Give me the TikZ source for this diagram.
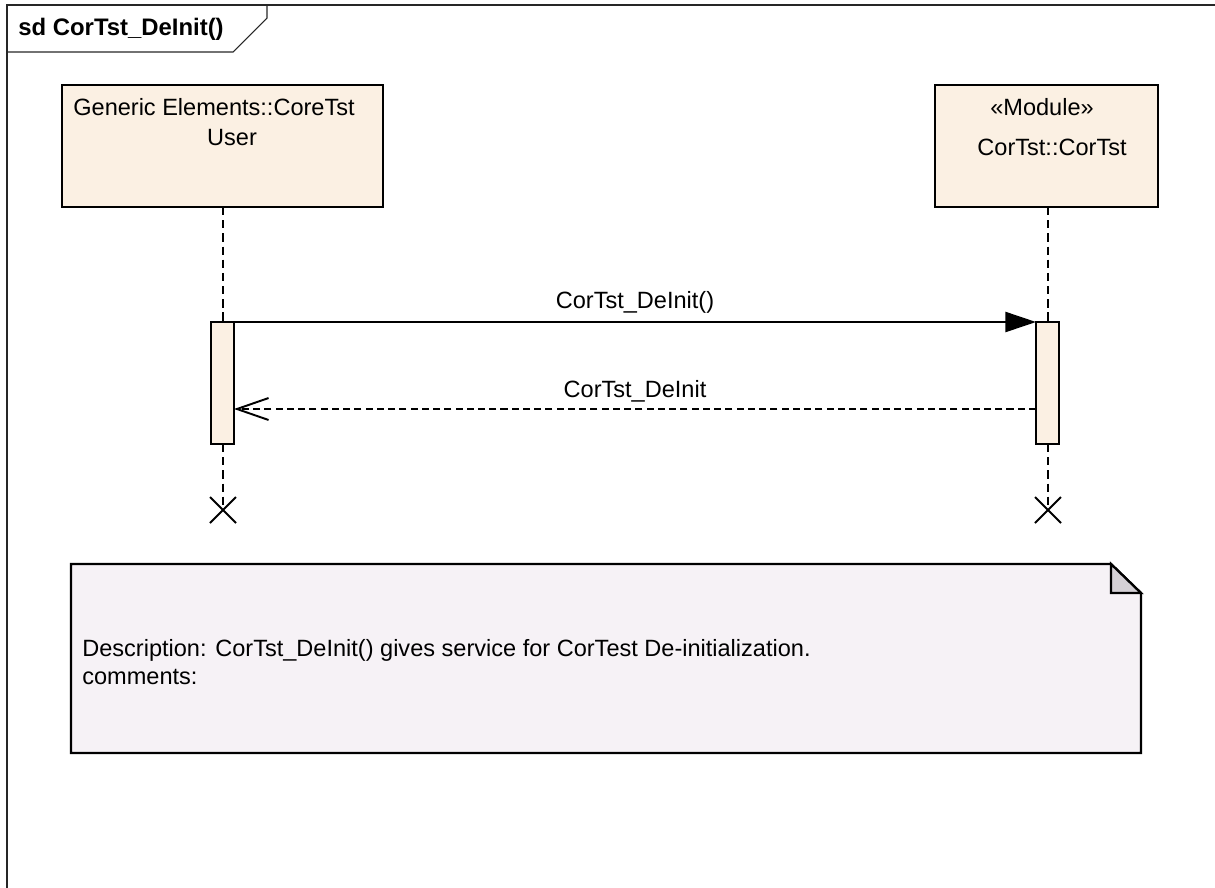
\documentclass[tikz,border=0pt]{standalone}
\usepackage{fontspec}
\setmainfont{Liberation Sans}
\usetikzlibrary{arrows.meta}
\definecolor{headfill}{RGB}{251,240,227}
\definecolor{notefill}{RGB}{246,242,246}
\definecolor{foldfill}{RGB}{212,208,213}
\tikzset{
  every node/.style={font=\fontsize{13.4}{16}\selectfont, inner sep=0pt},
  frameline/.style={line width=1pt, draw=black!85},
  tabline/.style={line width=0.6pt, draw=black!85},
  headbox/.style={line width=1.3pt, fill=headfill},
  actbar/.style={line width=1.1pt, fill=headfill},
  lifeline/.style={line width=1.1pt, dash pattern=on 4.7pt off 2.8pt},
  callmsg/.style={line width=1.1pt, -{Triangle[length=17.5pt,width=11.5pt]}},
  retmsg/.style={line width=1.1pt, dash pattern=on 4pt off 2.4pt, -{Straight Barb[length=18pt,width=12.5pt,line width=1.1pt]}},
  endmark/.style={line width=1.1pt},
  notebox/.style={line width=1.3pt, fill=notefill}
}
\begin{document}
\begin{tikzpicture}[x=0.02cm, y=-0.02cm, line join=miter]
\useasboundingbox (0,0) rectangle (1215,887);
\clip (0,0) rectangle (1215,887);
% frame with title tab
\draw[frameline] (7,900) -- (7,5) -- (1220,5);
\draw[tabline] (7,52) -- (233,52) -- (267,18) -- (267,5);
\node[anchor=base west, font=\fontsize{13.6}{16}\selectfont\bfseries] (title) at (18,35) {sd CorTst\_DeInit()};
% heads
\coordinate (U) at (223,207);
\coordinate (M) at (1048,207);
\draw[headbox] (62,85) rectangle (383,207);
\draw[headbox] (935,85) rectangle (1158,207);
\node[anchor=base] (userName) at (214,115) {Generic Elements::CoreTst};
\node[anchor=base] (userRole) at (232,145) {User};
\node[anchor=base] (modStereo) at (1042,115) {«Module»};
\node[anchor=base] (modName) at (1052,155) {CorTst::CorTst};
% lifelines
\coordinate (Utop) at (223,322); \coordinate (Ubot) at (223,444); \coordinate (Uend) at (223,510);
\coordinate (Mtop) at (1048,322); \coordinate (Mbot) at (1048,444); \coordinate (Mend) at (1048,510);
\draw[lifeline] (U) -- (Utop) (Ubot) -- (Uend);
\draw[lifeline] (M) -- (Mtop) (Mbot) -- (Mend);
\draw[endmark] (Uend) ++(-13,-13) -- ++(26,26) (Uend) ++(-13,13) -- ++(26,-26);
\draw[endmark] (Mend) ++(-13,-13) -- ++(26,26) (Mend) ++(-13,13) -- ++(26,-26);
% activations
\draw[actbar] (211,322) rectangle (234,444);
\draw[actbar] (1036,322) rectangle (1059,444);
\coordinate (Ucall) at (234,322); \coordinate (Mcall) at (1036,322);
\coordinate (Uret) at (234,409); \coordinate (Mret) at (1036,409);
% messages
\draw[callmsg] (Ucall) -- (Mcall) node[midway, anchor=base, yshift=0.28cm] (callLbl) {CorTst\_DeInit()};
\draw[retmsg] (Mret) -- (Uret) node[midway, anchor=base, yshift=0.24cm] (retLbl) {CorTst\_DeInit};
% note
\draw[notebox] (71,564) -- (1111,564) -- (1141,593) -- (1141,753) -- (71,753) -- cycle;
\draw[line width=1.3pt, fill=foldfill] (1111,564) -- (1111,593) -- (1141,593) -- cycle;
\node[anchor=base west] (desc) at (82,656) {Description: CorTst\_DeInit() gives service for CorTest De-initialization.};
\node[anchor=base west] (comm) at (82,684) {comments:};
\end{tikzpicture}
\end{document}
